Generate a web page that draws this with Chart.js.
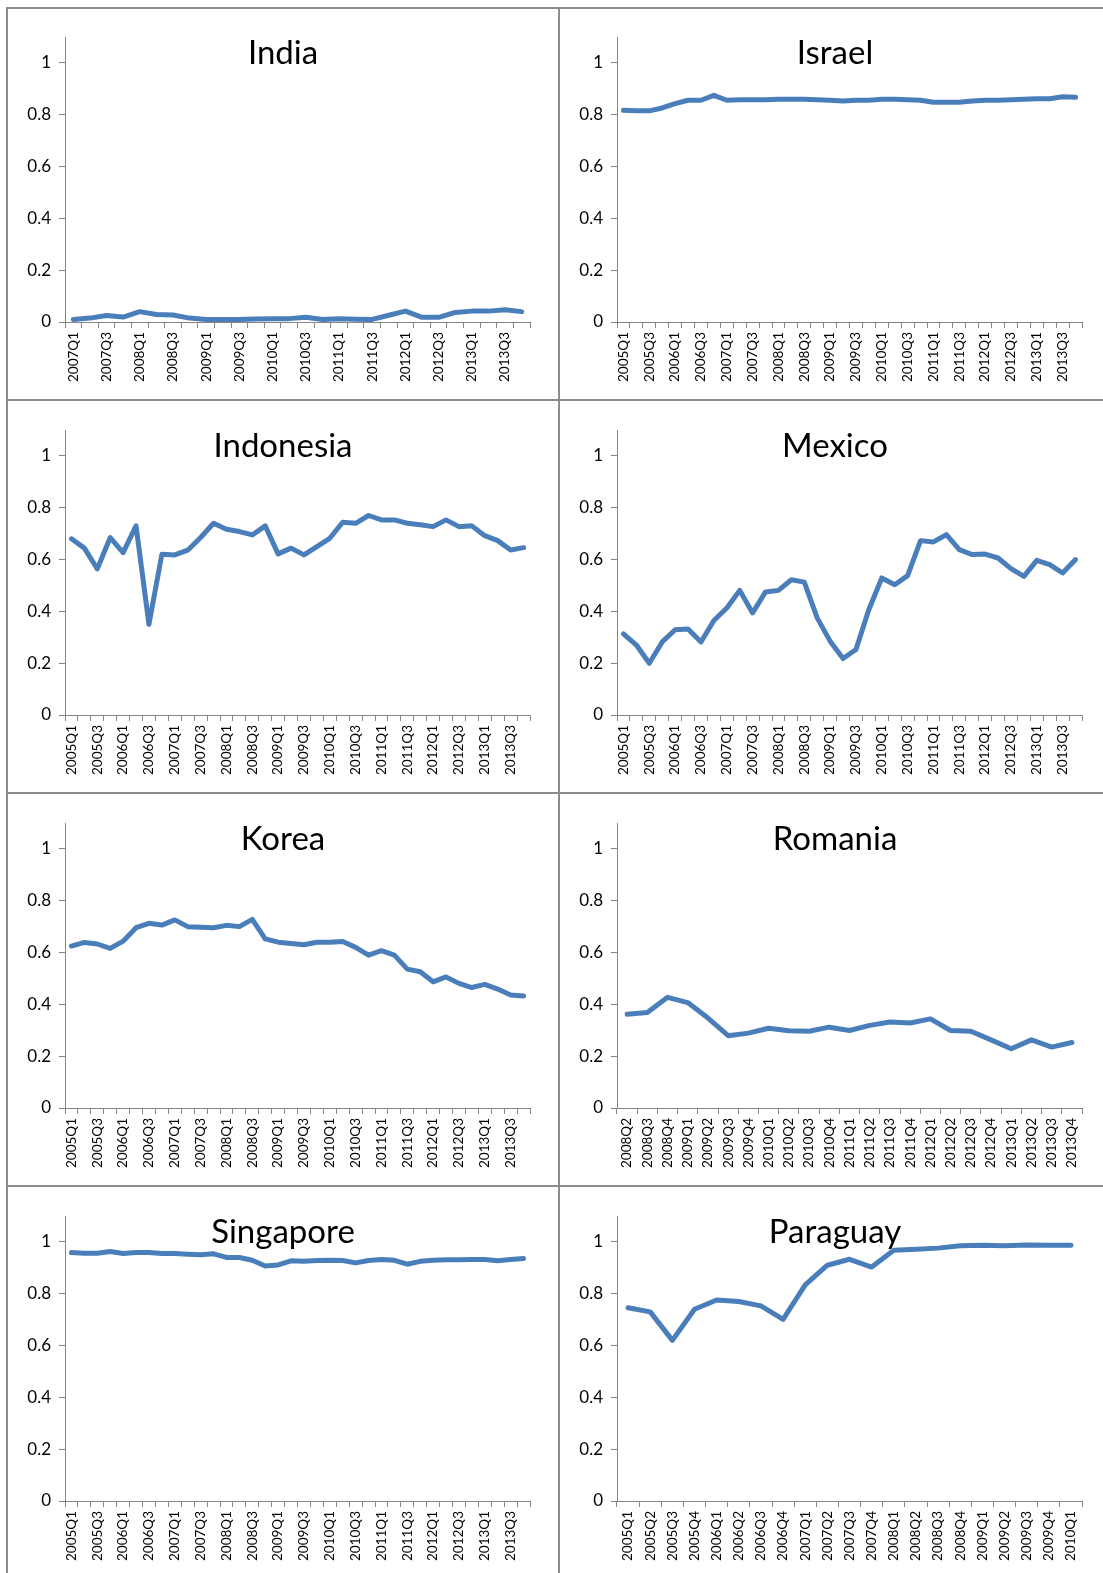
<!DOCTYPE html>
<html lang="en">
<head>
    <meta charset="UTF-8">
    <title>Country panels</title>
    <script src="https://cdn.jsdelivr.net/npm/chart.js@4.4.1/dist/chart.umd.min.js"></script>
    <style>
        html, body { margin: 0; padding: 0; background: #fff; overflow: hidden; }
        body { width: 1103px; height: 1573px; position: relative; }
        .panel { position: absolute; width: 550px; height: 390px; }
        .line { position: absolute; background: #8c8c8c; }
    </style>
</head>
<body>
    <div class="panel" style="left:8px;top:8px"><canvas id="india" width="550" height="390"></canvas></div>
    <div class="panel" style="left:560px;top:8px"><canvas id="israel" width="550" height="390"></canvas></div>
    <div class="panel" style="left:8px;top:401px"><canvas id="indonesia" width="550" height="390"></canvas></div>
    <div class="panel" style="left:560px;top:401px"><canvas id="mexico" width="550" height="390"></canvas></div>
    <div class="panel" style="left:8px;top:794px"><canvas id="korea" width="550" height="390"></canvas></div>
    <div class="panel" style="left:560px;top:794px"><canvas id="romania" width="550" height="390"></canvas></div>
    <div class="panel" style="left:8px;top:1187px"><canvas id="singapore" width="550" height="390"></canvas></div>
    <div class="panel" style="left:560px;top:1187px"><canvas id="paraguay" width="550" height="390"></canvas></div>

    <!-- frame lines of the grid -->
    <div class="line" style="left:6px;top:7px;width:1097px;height:2px"></div>
    <div class="line" style="left:6px;top:399px;width:1097px;height:2px"></div>
    <div class="line" style="left:6px;top:792px;width:1097px;height:2px"></div>
    <div class="line" style="left:6px;top:1185px;width:1097px;height:2px"></div>
    <div class="line" style="left:6px;top:7px;width:2px;height:1566px"></div>
    <div class="line" style="left:558px;top:7px;width:2px;height:1566px"></div>

    <script>
        // quarter labels
        var quarters = ["2005Q1","2005Q2","2005Q3","2005Q4","2006Q1","2006Q2","2006Q3","2006Q4",
                        "2007Q1","2007Q2","2007Q3","2007Q4","2008Q1","2008Q2","2008Q3","2008Q4",
                        "2009Q1","2009Q2","2009Q3","2009Q4","2010Q1","2010Q2","2010Q3","2010Q4",
                        "2011Q1","2011Q2","2011Q3","2011Q4","2012Q1","2012Q2","2012Q3","2012Q4",
                        "2013Q1","2013Q2","2013Q3","2013Q4"]
        var indiaQuarters = quarters.slice(8)       // 2007Q1 - 2013Q4
        var romaniaQuarters = quarters.slice(13)    // 2008Q2 - 2013Q4
        var paraguayQuarters = quarters.slice(0, 21) // 2005Q1 - 2010Q1

        var yTicks = [0, 0.2, 0.4, 0.6, 0.8, 1]

        var india = [0.010,0.015,0.025,0.019,0.040,0.029,0.027,0.015,0.010,0.010,0.010,0.012,0.013,0.013,
                     0.018,0.010,0.013,0.011,0.010,0.026,0.042,0.018,0.018,0.037,0.042,0.042,0.047,0.040]
        var israel = [0.817,0.815,0.815,0.826,0.843,0.856,0.856,0.875,0.856,0.858,0.858,0.858,0.860,0.860,
                      0.860,0.858,0.856,0.853,0.856,0.856,0.860,0.860,0.858,0.856,0.848,0.848,0.848,0.853,
                      0.856,0.856,0.858,0.860,0.862,0.862,0.869,0.867]
        var indonesia = [0.680,0.644,0.564,0.685,0.627,0.730,0.350,0.620,0.618,0.636,0.685,0.740,0.717,0.708,
                         0.695,0.730,0.622,0.644,0.618,0.650,0.682,0.744,0.740,0.770,0.753,0.753,0.740,0.734,
                         0.727,0.753,0.727,0.730,0.692,0.673,0.637,0.646]
        var mexico = [0.313,0.270,0.200,0.282,0.329,0.332,0.282,0.365,0.413,0.481,0.394,0.475,0.481,0.522,
                      0.513,0.375,0.285,0.218,0.253,0.407,0.529,0.503,0.538,0.673,0.668,0.696,0.638,0.619,
                      0.621,0.606,0.565,0.535,0.597,0.580,0.548,0.600]
        var korea = [0.625,0.639,0.633,0.616,0.644,0.696,0.713,0.706,0.726,0.700,0.698,0.696,0.705,0.700,
                     0.728,0.653,0.640,0.635,0.630,0.640,0.640,0.643,0.620,0.590,0.607,0.590,0.536,0.526,
                     0.487,0.506,0.481,0.465,0.477,0.459,0.436,0.432]
        var romania = [0.362,0.369,0.427,0.407,0.347,0.279,0.289,0.308,0.298,0.296,0.312,0.299,0.319,0.332,
                       0.328,0.344,0.299,0.296,0.263,0.229,0.263,0.235,0.253]
        var singapore = [0.959,0.956,0.956,0.963,0.955,0.959,0.959,0.955,0.955,0.952,0.950,0.954,0.940,0.940,
                         0.929,0.907,0.911,0.927,0.925,0.928,0.929,0.928,0.919,0.928,0.932,0.929,0.914,0.925,
                         0.929,0.931,0.931,0.932,0.932,0.927,0.932,0.936]
        var paraguay = [0.746,0.730,0.620,0.740,0.776,0.770,0.753,0.701,0.834,0.910,0.933,0.903,0.968,0.972,
                        0.976,0.985,0.987,0.985,0.988,0.987,0.987]

        var axisGrey = '#868686'
        var lineBlue = '#4A7EBB'
        var fontName = 'Lato'

        // title sits inside the plot like in the spreadsheet
        var panelTitle = {
            id: 'panelTitle',
            beforeDatasetsDraw: function (chart, args, opts) {
                var ctx = chart.ctx
                ctx.save()
                ctx.font = '33px ' + fontName
                ctx.fillStyle = '#000'
                ctx.textAlign = 'center'
                ctx.textBaseline = 'alphabetic'
                ctx.fillText(opts.text, chart.width / 2, 56)
                ctx.restore()
            }
        }

        function drawPanel(id, title, labels, values, every) {
            var ctx = document.getElementById(id).getContext('2d')
            return new Chart(ctx, {
                type: 'line',
                data: {
                    labels: labels,
                    datasets: [{
                        label: title,
                        data: values,
                        borderColor: lineBlue,
                        backgroundColor: lineBlue,
                        borderWidth: 5,
                        pointRadius: 0,
                        tension: 0,
                        fill: false,
                        borderJoinStyle: 'round',
                        borderCapStyle: 'round'
                    }]
                },
                options: {
                    responsive: false,
                    animation: false,
                    layout: { padding: { top: 29, right: 28, left: 0, bottom: 0 } },
                    plugins: {
                        legend: { display: false },
                        tooltip: { enabled: false },
                        panelTitle: { text: title }
                    },
                    scales: {
                        x: {
                            type: 'category',
                            offset: true,
                            afterFit: function (scale) { scale.height = 76 },
                            grid: { offset: true, drawOnChartArea: false, tickLength: 6, color: axisGrey },
                            border: { color: axisGrey, width: 1 },
                            ticks: {
                                autoSkip: false,
                                minRotation: 90,
                                maxRotation: 90,
                                padding: 4,
                                color: '#000',
                                font: { family: fontName, size: 13.5 },
                                callback: function (val, i) {
                                    return i % every === 0 ? this.getLabelForValue(val) : ''
                                }
                            }
                        },
                        y: {
                            min: 0,
                            max: 1.1,
                            afterFit: function (scale) { scale.width = 57 },
                            afterBuildTicks: function (scale) {
                                scale.ticks = yTicks.map(function (v) { return { value: v } })
                            },
                            grid: { drawOnChartArea: false, tickLength: 6, color: axisGrey },
                            border: { color: axisGrey, width: 1 },
                            ticks: {
                                padding: 8,
                                color: '#000',
                                font: { family: fontName, size: 17 },
                                callback: function (v) { return String(Number(v.toFixed(1))) }
                            }
                        }
                    }
                },
                plugins: [panelTitle]
            })
        }

        drawPanel('india', 'India', indiaQuarters, india, 2)
        drawPanel('israel', 'Israel', quarters, israel, 2)
        drawPanel('indonesia', 'Indonesia', quarters, indonesia, 2)
        drawPanel('mexico', 'Mexico', quarters, mexico, 2)
        drawPanel('korea', 'Korea', quarters, korea, 2)
        drawPanel('romania', 'Romania', romaniaQuarters, romania, 1)
        drawPanel('singapore', 'Singapore', quarters, singapore, 2)
        drawPanel('paraguay', 'Paraguay', paraguayQuarters, paraguay, 1)
    </script>
</body>
</html>
